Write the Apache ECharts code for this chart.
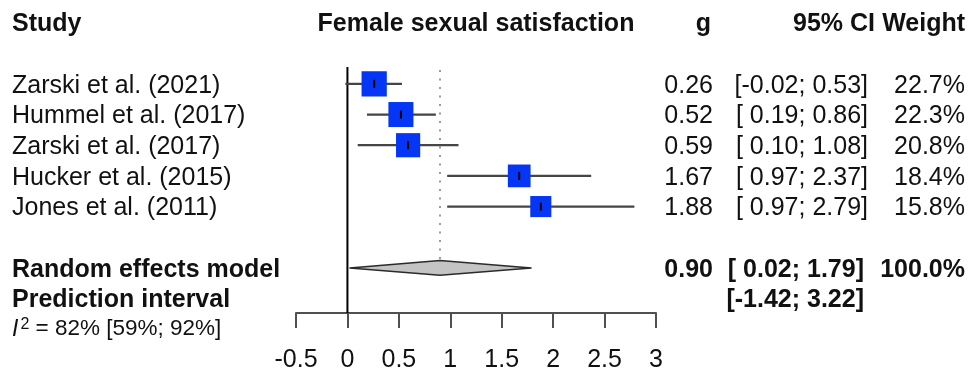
<!DOCTYPE html>
<html>
<head>
<meta charset="utf-8">
<script src="https://cdn.jsdelivr.net/npm/echarts@6/dist/echarts.min.js"></script>
<style>
  html, body { margin: 0; padding: 0; background: #fff; }
  #chart { width: 970px; height: 373px; }
</style>
</head>
<body>
<div id="chart"></div>
<script>
// Forest plot: female sexual satisfaction (Hedges' g, random effects)
const studies = ['Zarski et al. (2021)', 'Hummel et al. (2017)', 'Zarski et al. (2017)', 'Hucker et al. (2015)', 'Jones et al. (2011)'];
const effects = [0.26, 0.52, 0.59, 1.67, 1.88];
const ciLow = [-0.02, 0.19, 0.10, 0.97, 0.97];
const ciHigh = [0.53, 0.86, 1.08, 2.37, 2.79];
const weights = [22.7, 22.3, 20.8, 18.4, 15.8];

const pooledEffect = 0.90;
const pooledLow = 0.02;
const pooledHigh = 1.79;
const pooledWeight = 100.0;
const predictionInterval = [-1.42, 3.22];
const heterogeneity = [82, 59, 92]; // I^2 and its CI, in %

const xTickValues = [-0.5, 0, 0.5, 1, 1.5, 2, 2.5, 3];
const headers = ['Study', 'Female sexual satisfaction', 'g', '95% CI', 'Weight'];

// row layout (row indices on the hidden y axis)
const POOLED_ROW = 6, PRED_ROW = 7, HET_ROW = 8;
const Y_MIN = -0.55, Y_MAX = 7.47;

const FONT = '"Liberation Sans", Arial, Helvetica, sans-serif';
const FS = 25;
const TXT = '#111';
const TEXT_NUDGE = 2;       // px, optical baseline correction for table text
const SQUARE_SCALE = 5.3;   // px per sqrt(weight %)
const DIAMOND_HALF = 7.4;   // px

const fmt = v => v.toFixed(2);
const fmtLow = v => (v < 0 ? '' : ' ') + fmt(v);
const ciText = (lo, hi) => '[' + fmtLow(lo) + '; ' + fmt(hi) + ']';

const textRows = studies.map((s, i) => ({
  row: i, label: s, g: fmt(effects[i]), ci: ciText(ciLow[i], ciHigh[i]),
  w: weights[i].toFixed(1) + '%', bold: false
}));
textRows.push({ row: POOLED_ROW, label: 'Random effects model', g: fmt(pooledEffect),
  ci: ciText(pooledLow, pooledHigh), w: pooledWeight.toFixed(1) + '%', bold: true });
textRows.push({ row: PRED_ROW, label: 'Prediction interval', g: '',
  ci: '[' + fmt(predictionInterval[0]) + '; ' + fmt(predictionInterval[1]) + ']', w: '', bold: true });

const COL = { label: 12, g: 713, ci: 868, ciBold: 864, w: 965 };

function txt(x, y, text, align, bold) {
  return {
    type: 'text',
    style: {
      x: x, y: y + TEXT_NUDGE, text: text, align: align, verticalAlign: 'middle',
      font: (bold ? 'bold ' : '') + FS + 'px ' + FONT, fill: TXT
    }
  };
}

const chart = echarts.init(document.getElementById('chart'), null, { renderer: 'canvas' });

chart.setOption({
  animation: false,
  backgroundColor: '#fff',
  grid: { left: 296, right: 314, top: 67, bottom: 60, containLabel: false, outerBoundsMode: 'none' },
  xAxis: {
    type: 'value',
    min: xTickValues[0],
    max: xTickValues[xTickValues.length - 1],
    interval: xTickValues[1] - xTickValues[0],
    splitLine: { show: false },
    axisLine: { show: true, onZero: false, lineStyle: { color: '#505050', width: 2 } },
    axisTick: { show: true, inside: false, length: 15, lineStyle: { color: '#505050', width: 2 } },
    axisLabel: {
      show: true, margin: 35, color: TXT, fontSize: FS, fontFamily: FONT,
      showMinLabel: true, showMaxLabel: true, hideOverlap: false,
      formatter: v => String(v)
    }
  },
  yAxis: { type: 'value', min: Y_MIN, max: Y_MAX, inverse: true, show: false },
  graphic: [
    txt(12, 22, headers[0], 'left', true),
    txt(476, 22, headers[1], 'center', true),
    txt(711, 22, headers[2], 'right', true),
    txt(875, 22, headers[3], 'right', true),
    txt(965, 22, headers[4], 'right', true)
  ],
  series: [
    // line of no effect and pooled-estimate reference line
    {
      type: 'custom', clip: false, silent: true,
      data: [[0]],
      renderItem: function (params, api) {
        const z0 = api.coord([0, Y_MIN]);
        const z1 = api.coord([0, Y_MAX]);
        const p0 = api.coord([pooledEffect, Y_MIN]);
        const p1 = api.coord([pooledEffect, POOLED_ROW]);
        return {
          type: 'group', children: [
            { type: 'line', shape: { x1: z0[0], y1: z0[1], x2: z1[0], y2: z1[1] },
              style: { stroke: '#000', lineWidth: 2 } },
            { type: 'line', shape: { x1: p0[0], y1: p0[1] + 3, x2: p1[0], y2: p1[1] - DIAMOND_HALF },
              style: { stroke: '#9a9a9a', lineWidth: 2, lineDash: [2, 6.5] } }
          ]
        };
      }
    },
    // individual studies: CI lines, weighted squares, point ticks
    {
      type: 'custom', clip: false, silent: true,
      encode: { x: 0, y: 1 },
      data: studies.map((s, i) => [effects[i], i, ciLow[i], ciHigh[i], weights[i]]),
      renderItem: function (params, api) {
        const est = api.value(0), row = api.value(1);
        const c = api.coord([est, row]);
        const l = api.coord([api.value(2), row]);
        const h = api.coord([api.value(3), row]);
        const side = SQUARE_SCALE * Math.sqrt(api.value(4));
        return {
          type: 'group', children: [
            { type: 'line', shape: { x1: l[0], y1: l[1], x2: h[0], y2: h[1] },
              style: { stroke: '#454545', lineWidth: 2.2 } },
            { type: 'rect', shape: { x: c[0] - side / 2, y: c[1] - side / 2, width: side, height: side },
              style: { fill: '#0536f5' } },
            { type: 'line', shape: { x1: c[0], y1: c[1] - 4, x2: c[0], y2: c[1] + 4 },
              style: { stroke: '#000', lineWidth: 2 } }
          ]
        };
      }
    },
    // pooled random-effects diamond
    {
      type: 'custom', clip: false, silent: true,
      encode: { x: 0, y: 1 },
      data: [[pooledEffect, POOLED_ROW, pooledLow, pooledHigh]],
      renderItem: function (params, api) {
        const row = api.value(1);
        const c = api.coord([api.value(0), row]);
        const l = api.coord([api.value(2), row]);
        const h = api.coord([api.value(3), row]);
        return {
          type: 'polygon',
          shape: { points: [[l[0], l[1]], [c[0], c[1] - DIAMOND_HALF], [h[0], h[1]], [c[0], c[1] + DIAMOND_HALF]] },
          style: { fill: '#c4c4c4', stroke: '#2a2a2a', lineWidth: 1.5 }
        };
      }
    },
    // table columns: study labels, g, 95% CI, weight
    {
      type: 'custom', clip: false, silent: true,
      encode: { x: 0, y: 1 },
      data: textRows.map(r => [0, r.row]),
      renderItem: function (params, api) {
        const r = textRows[params.dataIndex];
        const y = api.coord([0, api.value(1)])[1];
        const kids = [txt(COL.label, y, r.label, 'left', r.bold)];
        if (r.g) kids.push(txt(COL.g, y, r.g, 'right', r.bold));
        if (r.ci) kids.push(txt(r.bold ? COL.ciBold : COL.ci, y, r.ci, 'right', r.bold));
        if (r.w) kids.push(txt(COL.w, y, r.w, 'right', r.bold));
        return { type: 'group', children: kids };
      }
    },
    // heterogeneity statistic
    {
      type: 'custom', clip: false, silent: true,
      encode: { x: 0, y: 1 },
      data: [[0, HET_ROW]],
      renderItem: function (params, api) {
        const y = api.coord([0, api.value(1)])[1];
        return {
          type: 'text',
          style: {
            x: COL.label, y: y, align: 'left', verticalAlign: 'middle',
            text: '{i|I}{s|2}{n| = ' + heterogeneity[0] + '% [' + heterogeneity[1] + '%; ' + heterogeneity[2] + '%]}',
            rich: {
              i: { fontStyle: 'italic', fontSize: 23, fontFamily: FONT, fill: TXT, padding: [0, 2, 0, 0] },
              s: { fontSize: 16, fontFamily: FONT, fill: TXT, verticalAlign: 'top', padding: [0, 0, 10, 0] },
              n: { fontSize: 22.5, fontFamily: FONT, fill: TXT }
            }
          }
        };
      }
    }
  ]
});
</script>
</body>
</html>
